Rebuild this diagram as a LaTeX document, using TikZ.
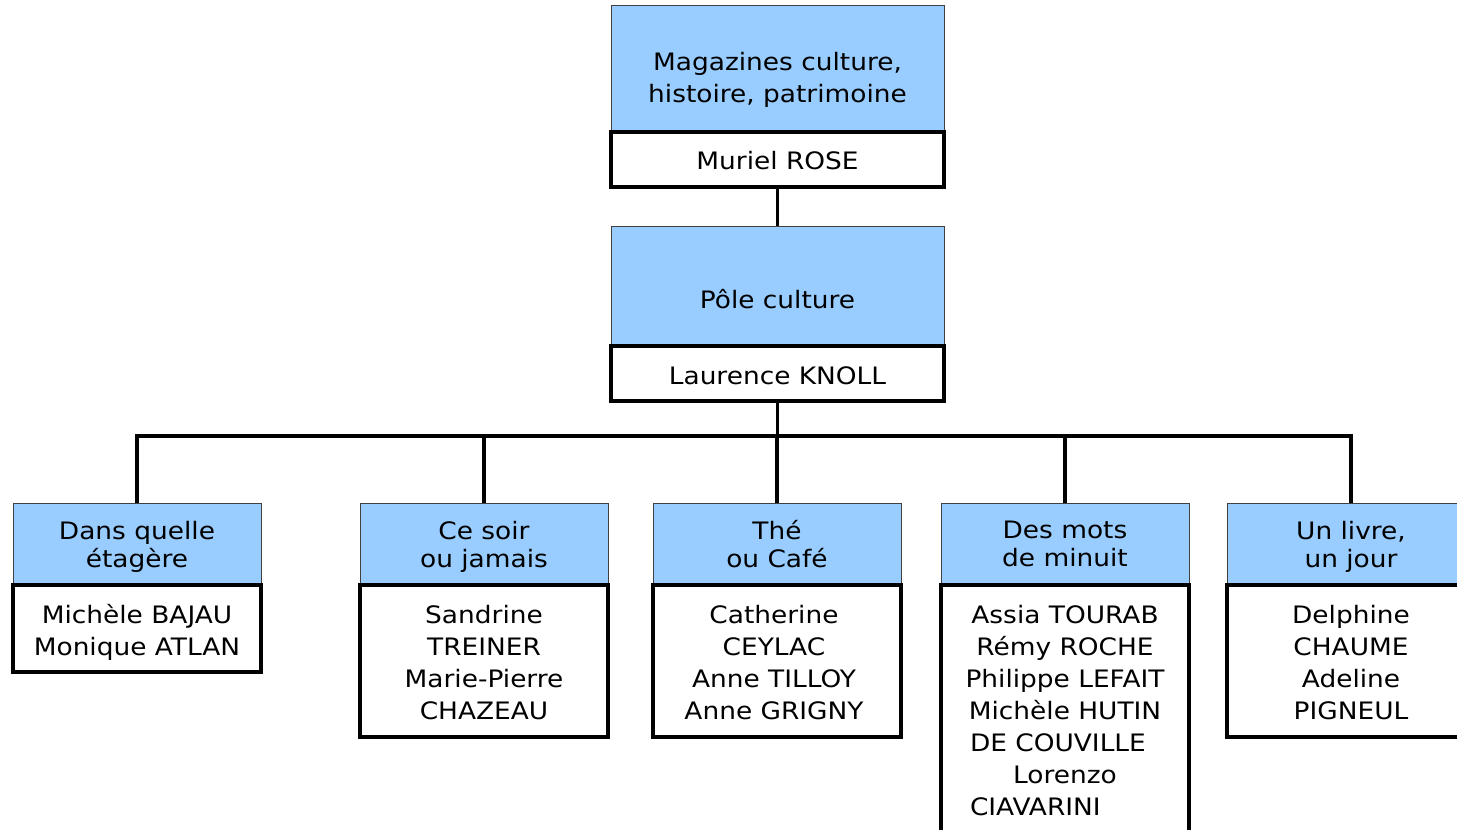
\documentclass[tikz,border=0pt]{standalone}
\usepackage{fontspec}
\setmainfont{DejaVu Sans}[FakeStretch=1.1]
\definecolor{boxblue}{HTML}{99CCFF}
\begin{document}
\begin{tikzpicture}[x=1pt,y=-1pt,
 bluebox/.style={draw=black!75,line width=1pt,fill=boxblue,inner sep=0pt,rectangle},
 whitebox/.style={draw=black,line width=3.5pt,fill=white,inner sep=0pt,rectangle},
 txt/.style={align=center,font=\fontsize{24}{32}\selectfont,inner sep=0pt},
 txts/.style={align=center,font=\fontsize{24}{28}\selectfont,inner sep=0pt},
 conn/.style={line width=3.5pt}]
\useasboundingbox (0,0) rectangle (1457,830);
\fill[white] (0,0) rectangle (1457,830);
% top
\node[bluebox,minimum width=333pt,minimum height=127pt] (mag) at (777.5,68.5) {};
\node[whitebox,minimum width=333pt,minimum height=55pt] (magw) at (777.5,159.5) {};
\node[txt] (magt) at (777.5,80) {Magazines culture,\\histoire, patrimoine};
\node[txt] (magwt) at (777.5,161) {Muriel ROSE};
% pole
\node[bluebox,minimum width=333pt,minimum height=120pt] (pole) at (777.5,286) {};
\node[whitebox,minimum width=333pt,minimum height=55pt] (polew) at (777.5,373.5) {};
\node[txt] (polet) at (777.5,299) {Pôle culture};
\node[txt] (polewt) at (777.5,376) {Laurence KNOLL};
% bottom blue
\foreach \n/\x in {b1/137,b2/484,b3/777,b4/1065,b5/1351}{
  \node[bluebox,minimum width=248pt,minimum height=82pt] (\n) at (\x,544) {};
}
\node[whitebox,minimum width=248pt,minimum height=87pt] (w1) at (137,628.5) {};
\node[whitebox,minimum width=248pt,minimum height=152pt] (w2) at (484,661) {};
\node[whitebox,minimum width=248pt,minimum height=152pt] (w3) at (777,661) {};
\node[whitebox,minimum width=248pt,minimum height=251pt] (w4) at (1065,710.5) {};
\node[whitebox,minimum width=248pt,minimum height=152pt] (w5) at (1351,661) {};
\node[txts] (b1t) at (137,547) {Dans quelle\\étagère};
\node[txts] (b2t) at (484,547) {Ce soir\\ou jamais};
\node[txts] (b3t) at (777,544) {Thé\\ou Café};
\node[txts] (b4t) at (1065,544) {Des mots\\de minuit};
\node[txts] (b5t) at (1351,547) {Un livre,\\un jour};
\node[txt] (w1t) at (137,632) {Michèle BAJAU\\Monique ATLAN};
\node[txt] (w2t) at (484,663) {Sandrine\\TREINER\\Marie-Pierre\\CHAZEAU};
\node[txt] (w3t) at (774,663) {Catherine\\CEYLAC\\Anne TILLOY\\Anne GRIGNY};
\node[txt] (w4t) at (1065,711) {Assia TOURAB\\Rémy ROCHE\\Philippe LEFAIT\\Michèle HUTIN\\\makebox[190pt][l]{DE COUVILLE}\\Lorenzo\\\makebox[190pt][l]{CIAVARINI}};
\node[txt] (w5t) at (1351,663) {Delphine\\CHAUME\\Adeline\\PIGNEUL};
% connectors
\coordinate (bar) at (777.5,436);
\draw[conn] (magw.south) -- (pole.north);
\draw[conn] (polew.south) -- (bar);
\draw[conn] (b1.north) |- (bar) -| (b5.north);
\draw[conn] (b2.north) -- (b2.north |- bar);
\draw[conn] (b3.north) -- (b3.north |- bar);
\draw[conn] (b4.north) -- (b4.north |- bar);
\end{tikzpicture}
\end{document}
